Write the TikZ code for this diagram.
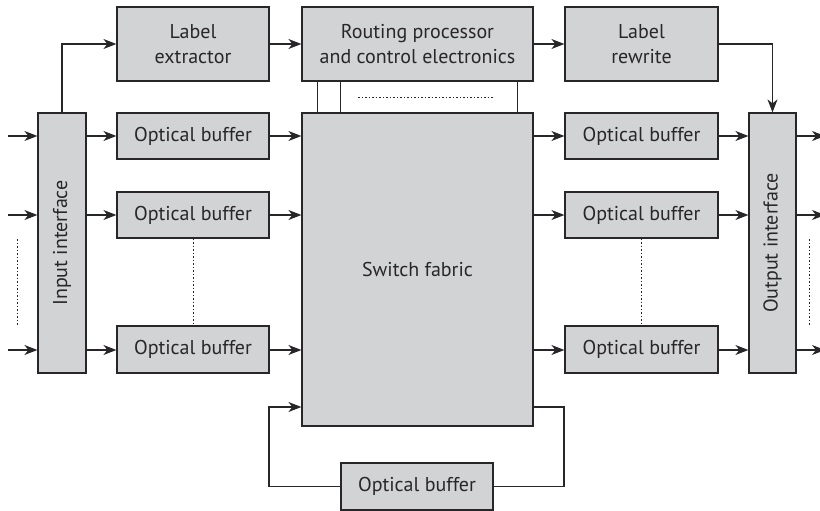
\documentclass[tikz,border=0pt]{standalone}
\usepackage{fontspec}
\setmainfont{PT Sans}
\usetikzlibrary{arrows.meta,calc}
\definecolor{boxgray}{RGB}{209,211,212}
\definecolor{ink}{RGB}{40,38,40}
\tikzset{
  blk/.style={draw=ink, fill=boxgray, line width=1.2pt, inner sep=0pt, text=ink, font=\fontsize{20}{25.5}\selectfont, align=center},
  arr/.style={draw=ink, line width=1.1pt, -{Stealth[length=13pt,width=10pt,inset=4pt]}},
  ln/.style={draw=ink, line width=1.1pt},
  dots/.style={draw=ink, line width=0.9pt, dash pattern=on 1.5pt off 2pt}
}
\begin{document}
\begin{tikzpicture}[x=1pt,y=-1pt]
\useasboundingbox (0,0) rectangle (820,511);
% main blocks
\node[blk, minimum width=48pt, minimum height=260pt] (in) at (62,243) {};
\node[rotate=90, text=ink, font=\fontsize{20}{25}\selectfont] (intxt) at (in.center) {Input interface};
\node[blk, minimum width=47pt, minimum height=260pt] (out) at (772.5,243) {};
\node[rotate=90, text=ink, font=\fontsize{20}{25}\selectfont] (outtxt) at (out.center) {Output interface};
\node[blk, minimum width=152pt, minimum height=74pt] (ext) at (193,44) {Label\\extractor};
\node[blk, minimum width=231pt, minimum height=74pt] (rout) at (417.5,44) {Routing processor\\and control electronics};
\node[blk, minimum width=153pt, minimum height=74pt] (rew) at (641.5,44) {Label\\rewrite};
\node[blk, minimum width=231pt, minimum height=313pt] (sf) at (417.5,269.5) {Switch fabric};
% buffers
\node[blk, minimum width=152pt, minimum height=46pt] (b1L) at (193,136) {Optical buffer};
\node[blk, minimum width=152pt, minimum height=46pt] (b2L) at (193,215) {Optical buffer};
\node[blk, minimum width=152pt, minimum height=47pt] (b3L) at (193,349.5) {Optical buffer};
\node[blk, minimum width=153pt, minimum height=46pt] (b1R) at (641.5,136) {Optical buffer};
\node[blk, minimum width=153pt, minimum height=46pt] (b2R) at (641.5,215) {Optical buffer};
\node[blk, minimum width=153pt, minimum height=47pt] (b3R) at (641.5,349.5) {Optical buffer};
\node[blk, minimum width=152pt, minimum height=47pt] (bB) at (417,486.5) {Optical buffer};
% free ends
\coordinate (i1) at (8,136);
\coordinate (i2) at (8,215);
\coordinate (i3) at (8,350);
\coordinate (o1) at (825,136);
\coordinate (o2) at (825,215);
\coordinate (o3) at (825,350);
\coordinate (lr) at (564,407);
\coordinate (ll) at (269,407);
% inputs
\foreach \i/\b in {i1/b1L,i2/b2L,i3/b3L}{
  \draw[arr] (\i) -- (in.west |- \i);
  \draw[arr] (in.east |- \i) -- (\b.west |- \i);
  \draw[arr] (\b.east |- \i) -- (sf.west |- \i);
}
\foreach \o/\b in {o1/b1R,o2/b2R,o3/b3R}{
  \draw[arr] (sf.east |- \o) -- (\b.west |- \o);
  \draw[arr] (\b.east |- \o) -- (out.west |- \o);
  \draw[arr] (out.east |- \o) -- (\o);
}
% top chain
\draw[arr] (in.north) |- (ext.west);
\draw[arr] (ext.east) -- (rout.west);
\draw[arr] (rout.east) -- (rew.west);
\draw[arr] (rew.east) -| (out.north);
% control lines
\draw[ln] ($(rout.south west)+(16,0)$) -- ($(sf.north west)+(16,0)$);
\draw[ln] ($(rout.south west)+(39,0)$) -- ($(sf.north west)+(39,0)$);
\draw[ln] ($(rout.south east)+(-16.5,0)$) -- ($(sf.north east)+(-16.5,0)$);
\draw[dots] ($(rout.south west)+(57,16)$) -- ($(rout.south west)+(193,16)$);
% dotted continuation
\draw[dots] (b2L.south) -- (b3L.north);
\draw[dots] (b2R.south) -- (b3R.north);
\draw[dots] ($(i2)+(9,24)$) -- ($(i3)+(9,-25)$);
\draw[dots] ($(o2)+(-16,24)$) -- ($(o3)+(-16,-25)$);
% loop
\draw[ln] (sf.east |- lr) -- (lr) |- (bB.east);
\draw[arr] (bB.west) -| (ll) -- (sf.west |- ll);
\end{tikzpicture}
\end{document}
